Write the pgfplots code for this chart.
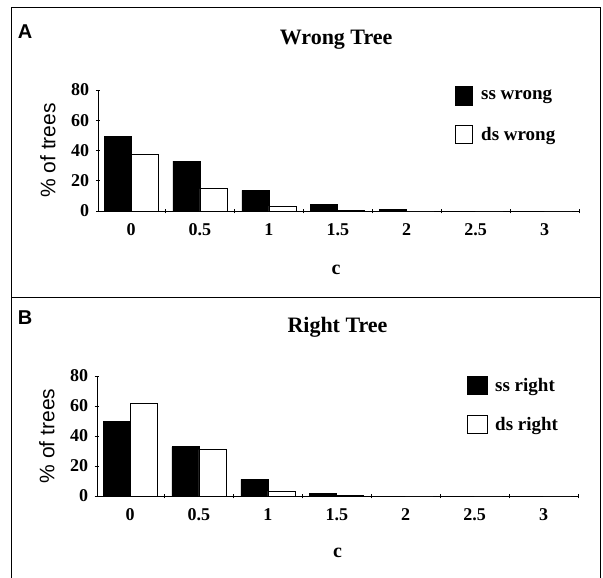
\documentclass[border=0pt]{standalone}
\usepackage{fontspec}
\setmainfont{Liberation Serif}
\newfontfamily\sansf{Liberation Sans}
\usepackage{pgfplots}
\pgfplotsset{compat=1.18}

\tikzset{
  ss/.style={fill=black, draw=black, line width=0.8pt},
  ds/.style={fill=white, draw=black, line width=0.8pt},
}

\pgfplotsset{
  panel/.style={
    scale only axis,
    width=481pt, height=121pt,
    anchor=south west,
    xmin=-0.48, xmax=6.5,
    ymin=0, ymax=80,
    axis lines*=left,
    axis line style={line width=0.9pt},
    ybar=0pt, bar width=27pt,
    xtick={0.5,1.5,...,6.5},
    xticklabels={},
    extra x ticks={0,...,6},
    extra x tick labels={0,0.5,1,1.5,2,2.5,3},
    extra x tick style={major tick length=0pt},
    xtick align=center,
    ytick={0,20,...,80},
    ytick align=center,
    major tick length=4.5pt,
    tick style={line width=0.8pt, black},
    /pgf/number format/assume math mode=true,
    ticklabel style={font=\fontsize{18}{20}\selectfont\bfseries},
    xticklabel style={yshift=-9pt},
    yticklabel style={xshift=-3pt},
    ylabel={\% of trees},
    ylabel style={font=\sansf\fontsize{21}{23}\selectfont,
                  at={(axis description cs:-0.104,0.5)}, anchor=center},
    xlabel={c},
    xlabel style={font=\fontsize{20}{22}\selectfont\bfseries, anchor=center},
    title style={font=\fontsize{22}{24}\selectfont\bfseries, anchor=center},
    clip=false,
  },
}

\begin{document}
\begin{tikzpicture}
\path[use as bounding box] (0pt,0pt) rectangle (603pt,-578pt);

% panel frames
\draw[line width=0.8pt] (11pt,-7pt) rectangle (600pt,-297pt);
\draw[line width=0.8pt] (11pt,-578pt) -- (11pt,-297pt) -- (600pt,-297pt) -- (600pt,-578pt);

\node[font=\sansf\fontsize{20}{22}\selectfont\bfseries] at (25pt,-32pt) {A};
\node[font=\sansf\fontsize{20}{22}\selectfont\bfseries] at (25pt,-318pt) {B};

% Panel A
\begin{axis}[panel, at={(98pt,-211pt)},
    title={Wrong Tree},
    title style={at={(axis description cs:0.495,1.366)}},
    xlabel style={at={(axis description cs:0.495,-0.486)}}]
\addplot[ss] coordinates {(0,49) (1,33) (2,13.6) (3,4.4) (4,1.2) (5,0) (6,0)};
\addplot[ds] coordinates {(0,37.5) (1,14.7) (2,3.3) (3,0.3) (4,0) (5,0) (6,0)};
\end{axis}

% Panel B
\begin{axis}[panel, at={(97pt,-496pt)}, height=120pt,
    title={Right Tree},
    title style={at={(axis description cs:0.5,1.358)}},
    xlabel style={at={(axis description cs:0.5,-0.475)}}]
\addplot[ss] coordinates {(0,50) (1,32.8) (2,11.1) (3,1.8) (4,0) (5,0) (6,0)};
\addplot[ds] coordinates {(0,62) (1,31) (2,3.3) (3,0.2) (4,0) (5,0) (6,0)};
\end{axis}

% legends
\begin{scope}[font=\fontsize{19}{21}\selectfont\bfseries]
\draw[ss] (455pt,-86pt) rectangle (472pt,-105pt);
\node[anchor=west, inner sep=0pt] at (481pt,-97pt) {ss wrong};
\draw[ds] (455pt,-125pt) rectangle (472pt,-143pt);
\node[anchor=west, inner sep=0pt] at (481pt,-136pt) {ds wrong};

\draw[ss] (467pt,-376pt) rectangle (487pt,-394pt);
\node[anchor=west, inner sep=0pt] at (495pt,-387pt) {ss right};
\draw[ds] (467pt,-415pt) rectangle (487pt,-433pt);
\node[anchor=west, inner sep=0pt] at (495pt,-426pt) {ds right};
\end{scope}
\end{tikzpicture}
\end{document}
